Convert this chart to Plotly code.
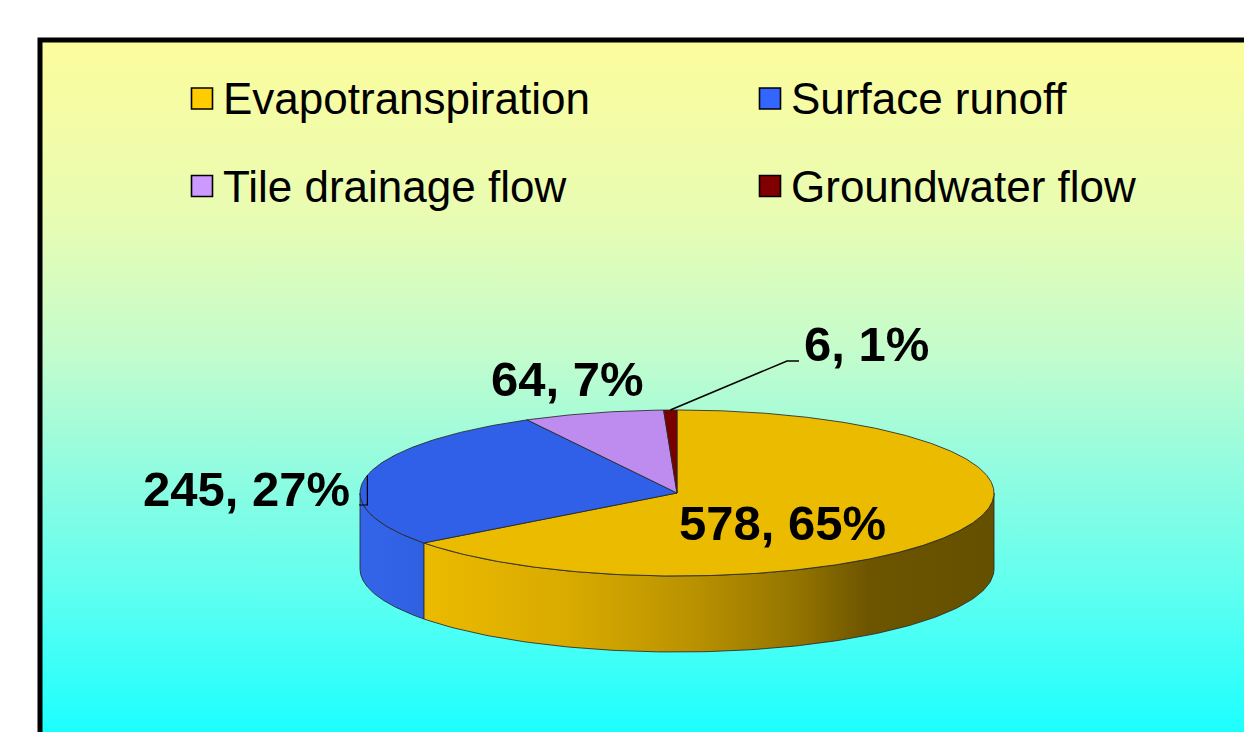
import numpy as np
import plotly.graph_objects as go

# ---- data -------------------------------------------------------------
categories = ["Evapotranspiration", "Surface runoff", "Tile drainage flow", "Groundwater flow"]
values = [578, 245, 64, 6]
percents = [65, 27, 7, 1]

legend_colors = ["#FFCC00", "#3366FF", "#CC99FF", "#800000"]
top_colors = ["#EBBB00", "#3060E8", "#BE8CEE", "#7A0000"]
side_scales = [
    [[0, "#EBBA00"], [0.25, "#D9AB00"], [0.47, "#BA9200"], [0.65, "#957500"],
     [0.78, "#6D5500"], [1, "#645000"]],
    [[0, "#3464E8"], [1, "#3060E2"]],
    [[0, "#B580E0"], [1, "#B580E0"]],
    [[0, "#6A0000"], [1, "#6A0000"]],
]

# ---- canvas / pie geometry (pixel-like axes) ---------------------------
W, H = 1244, 732
CX, CY, RX, RY, DEPTH = 677, 493, 317, 83, 76
FONT = "Liberation Sans, Arial, sans-serif"
EDGE = "rgba(40,40,40,0.85)"


def rim(t0, t1, n=120, dy=0.0):
    th = np.radians(np.linspace(t0, t1, n))
    return CX + RX * np.sin(th), CY - RY * np.cos(th) + dy


total = float(sum(values))
bounds = np.concatenate([[0.0], np.cumsum(values) / total * 360.0])

fig = go.Figure()

# gradient background inside the frame
fig.add_trace(go.Scatter(
    x=[40, W + 20, W + 20, 40, 40], y=[40, 40, H + 20, H + 20, 40],
    mode="lines", line=dict(width=0), fill="toself",
    fillgradient=dict(type="vertical", start=40, stop=H,
                      colorscale=[[0, "#FCFC9C"], [0.25, "#E9FCB2"], [0.45, "#C4FCCC"],
                                  [0.62, "#92FCE0"], [0.8, "#5EFFF0"], [1, "#1CFFFF"]]),
    hoverinfo="skip", showlegend=False))

# visible front wall of each slice
for i in range(len(values)):
    a, b = max(bounds[i], 90.0), min(bounds[i + 1], 270.0)
    if a >= b:
        continue
    tx, ty = rim(a, b)
    bx, by = rim(b, a, dy=DEPTH)
    xs = np.concatenate([tx, bx, tx[:1]])
    ys = np.concatenate([ty, by, ty[:1]])
    fig.add_trace(go.Scatter(
        x=xs, y=ys, mode="lines", line=dict(color=EDGE, width=1), fill="toself",
        fillgradient=dict(type="horizontal", colorscale=side_scales[i]),
        hoverinfo="skip", showlegend=False))

# top faces
for i in range(len(values)):
    ax, ay = rim(bounds[i], bounds[i + 1], n=max(4, int((bounds[i + 1] - bounds[i]) * 2)))
    xs = np.concatenate([[CX], ax, [CX]])
    ys = np.concatenate([[CY], ay, [CY]])
    fig.add_trace(go.Scatter(
        x=xs, y=ys, mode="lines", line=dict(color=EDGE, width=1), fill="toself",
        fillcolor=top_colors[i], hoverinfo="skip", showlegend=False))

# leader lines for the outside labels
mid = (bounds[:-1] + bounds[1:]) / 2.0
gx, gy = rim(mid[3], mid[3], n=1)
fig.add_trace(go.Scatter(x=[gx[0], 787, 799], y=[gy[0], 361, 361], mode="lines",
                         line=dict(color="black", width=1.6), hoverinfo="skip", showlegend=False))
sx, sy = rim(mid[1], mid[1], n=1)
fig.add_trace(go.Scatter(x=[sx[0], sx[0], 359], y=[sy[0], 505, 505], mode="lines",
                         line=dict(color="black", width=1.2), hoverinfo="skip", showlegend=False))

# data labels
label_pos = [(782, 523), (246, 489), (567, 379), (866, 344)]
for i, (lx, ly) in enumerate(label_pos):
    fig.add_annotation(x=lx, y=ly, xref="x", yref="y", showarrow=False,
                       text=f"<b>{values[i]}, {percents[i]}%</b>",
                       font=dict(family=FONT, size=49, color="black"),
                       xanchor="center", yanchor="middle")

# legend (2 x 2)
leg_sw = [(202, 98.5), (770, 98.5), (202, 186), (770, 186)]
fig.add_trace(go.Scatter(
    x=[p[0] for p in leg_sw], y=[p[1] for p in leg_sw], mode="markers",
    marker=dict(symbol="square", size=21, color=legend_colors,
                line=dict(color="black", width=1.6)),
    hoverinfo="skip", showlegend=False))
for (sxp, syp), name in zip(leg_sw, categories):
    fig.add_annotation(x=sxp + 19, y=syp, xref="x", yref="y", showarrow=False,
                       text=name, font=dict(family=FONT, size=44, color="black"),
                       xanchor="left", yanchor="middle")

# chart frame
fig.add_shape(type="rect", x0=40, y0=40, x1=W + 40, y1=H + 40, xref="x", yref="y",
              line=dict(color="black", width=5), fillcolor="rgba(0,0,0,0)", layer="above")

fig.update_layout(
    width=W, height=H, margin=dict(l=0, r=0, t=0, b=0),
    paper_bgcolor="white", plot_bgcolor="white", showlegend=False,
    xaxis=dict(range=[0, W], visible=False, fixedrange=True),
    yaxis=dict(range=[H, 0], visible=False, fixedrange=True),
)

fig.write_html("out.html")
